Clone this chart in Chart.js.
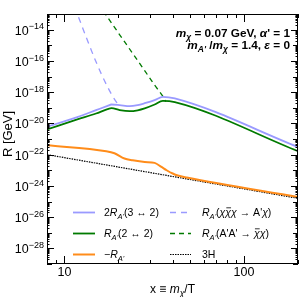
<!DOCTYPE html>
<html>
<head>
<meta charset="utf-8">
<script src="https://cdn.jsdelivr.net/npm/chart.js@4.4.1/dist/chart.umd.min.js"></script>
<style>
  html, body { margin: 0; padding: 0; background: #fff; }
  #wrap { width: 300px; height: 297px; }
</style>
</head>
<body>
<div id="wrap"><canvas id="rateChart" width="300" height="297"></canvas></div>
<script>
// ---- data (x = m_chi / T, R in GeV) ----
const xBlue  = [8, 11.8, 15.0, 17.4, 18.3, 20.3, 23.1, 25.6, 28.0, 31.8, 35.3, 41.2, 200];
const rBlue  = [6.0e-21, 2.51e-20, 7.0e-20, 1.32e-19, 1.62e-19, 1.48e-19, 1.26e-19, 1.48e-19, 1.95e-19, 3.09e-19, 5.01e-19, 3.98e-19, 3.09e-22];

const xGreen = [8, 11.8, 15.0, 17.4, 18.3, 20.3, 23.1, 25.6, 28.0, 31.8, 35.3, 41.2, 200];
const rGreen = [4.07e-21, 1.78e-20, 4.27e-20, 8.13e-20, 9.33e-20, 7.08e-20, 6.03e-20, 6.9e-20, 9.12e-20, 1.62e-19, 2.75e-19, 2.29e-19, 1.66e-22];

const xOrange = [8, 17.1, 19.0, 21.6, 24.0, 28.0, 31.8, 34.7, 37.1, 40.1, 42.8, 48.0, 200];
const rOrange = [3.98e-22, 1.66e-22, 1.23e-22, 5.6e-23, 4.37e-23, 3.39e-23, 2.95e-23, 1.62e-23, 1.0e-23, 6.17e-24, 4.57e-24, 3.39e-24, 1.95e-25];

const xBlueDash = [11.4, 11.8, 15.0, 17.2, 19.5, 20.3];
const rBlueDash = [2.8e-13, 1.0e-13, 8.7e-17, 2.8e-18, 2.3e-19, 1.5e-19];

const xGreenDash = [16.5, 16.9, 29.9, 31.8, 35.3, 36.7];
const rGreenDash = [1.5e-13, 1.0e-13, 7.9e-18, 2.8e-18, 5.5e-19, 2.45e-19];

const x3H = [8, 200];
const r3H = [1.0e-22, 1.6e-25];

// tick labels
const xTickVals = [10, 100];
const yTickExps = [-28, -26, -24, -22, -20, -18, -16, -14];

const FAM = "'Liberation Sans', Arial, sans-serif";

// ---- small rich text helper (italic / sub / sup / overline) ----
function segFont(s, size, bold) {
    const px = (s.s ? size * 0.72 : size);
    return (bold ? 'bold ' : '') + (s.i ? 'italic ' : '') + px.toFixed(1) + 'px ' + FAM;
}
function richWidth(ctx, segs, size, bold) {
    let w = 0;
    segs.forEach(s => { ctx.font = segFont(s, size, bold); w += ctx.measureText(s.t).width; });
    return w;
}
function drawRich(ctx, segs, x, y, size, align, bold) {
    const w = richWidth(ctx, segs, size, bold);
    let cx = align === 'right' ? x - w : align === 'center' ? x - w / 2 : x;
    ctx.textAlign = 'left';
    ctx.textBaseline = 'alphabetic';
    segs.forEach(s => {
        ctx.font = segFont(s, size, bold);
        let dy = 0;
        if (s.s === 'sub') dy = size * 0.28;
        if (s.s === 'sup') dy = -size * 0.42;
        ctx.fillText(s.t, cx, y + dy);
        const tw = ctx.measureText(s.t).width;
        if (s.bar) {
            ctx.save();
            ctx.lineWidth = 0.8;
            ctx.beginPath();
            ctx.moveTo(cx + 1, y - size * 0.78);
            ctx.lineTo(cx + tw, y - size * 0.78);
            ctx.stroke();
            ctx.restore();
        }
        cx += tw;
    });
}
const T = (t, o) => Object.assign({ t: t }, o || {});

// legend labels, same order as datasets
const legendText = [
    [T('2'), T('R', { i: 1 }), T("A'", { i: 1, s: 'sub' }), T('(3 ↔ 2)')],
    [T('R', { i: 1 }), T("A'", { i: 1, s: 'sub' }), T('(2 ↔ 2)')],
    [T('−'), T('R', { i: 1 }), T("A'", { i: 1, s: 'sub' })],
    [T('R', { i: 1 }), T("A'", { i: 1, s: 'sub' }), T('('), T('χ', { i: 1 }), T('χ', { i: 1, bar: 1 }), T('χ', { i: 1 }), T(" → A'"), T('χ', { i: 1 }), T(')')],
    [T('R', { i: 1 }), T("A'", { i: 1, s: 'sub' }), T("(A'A' → "), T('χ', { i: 1, bar: 1 }), T('χ', { i: 1 }), T(')')],
    [T('3H')]
];

const pairs = (xs, ys) => xs.map((v, i) => ({ x: v, y: ys[i] }));

// ---- axes frame, inward ticks, labels, legend, annotation ----
const decorPlugin = {
    id: 'decor',
    afterDraw(chart) {
        const ctx = chart.ctx;
        const a = chart.chartArea;
        const xs = chart.scales.x, ys = chart.scales.y;
        ctx.save();
        ctx.strokeStyle = '#000';
        ctx.fillStyle = '#000';
        ctx.lineWidth = 1;

        // frame
        ctx.strokeRect(a.left + 0.5, a.top + 0.5, a.right - a.left - 1, a.bottom - a.top - 1);

        // y ticks (both sides)
        ctx.beginPath();
        for (let e = -29; e <= -13; e++) {
            for (let m = 1; m <= 9; m++) {
                const v = m * Math.pow(10, e);
                if (v < ys.min || v > ys.max) continue;
                const py = Math.round(ys.getPixelForValue(v)) + 0.5;
                const len = m === 1 ? (e % 2 === 0 ? 7 : 5) : 2.5;
                ctx.moveTo(a.left, py); ctx.lineTo(a.left + len, py);
                ctx.moveTo(a.right, py); ctx.lineTo(a.right - len, py);
            }
        }
        // x ticks (top and bottom)
        for (let e = 0; e <= 2; e++) {
            for (let m = 1; m <= 9; m++) {
                const v = m * Math.pow(10, e);
                if (v < xs.min || v > xs.max) continue;
                const px = Math.round(xs.getPixelForValue(v)) + 0.5;
                const len = m === 1 ? 8 : 4;
                ctx.moveTo(px, a.bottom); ctx.lineTo(px, a.bottom - len);
                ctx.moveTo(px, a.top); ctx.lineTo(px, a.top + len);
            }
        }
        ctx.stroke();

        // y tick labels
        yTickExps.forEach(e => {
            const py = ys.getPixelForValue(Math.pow(10, e));
            drawRich(ctx, [T('10'), T('−' + Math.abs(e), { s: 'sup' })], a.left - 3, py + 5, 12.5, 'right', false);
        });
        // x tick labels
        xTickVals.forEach(v => {
            drawRich(ctx, [T(String(v))], xs.getPixelForValue(v), a.bottom + 12, 12.5, 'center', false);
        });

        // axis titles
        drawRich(ctx, [T('x ≡ '), T('m', { i: 1 }), T('χ', { i: 1, s: 'sub' }), T('/T')],
            (a.left + a.right) / 2, 293, 12, 'center', false);
        ctx.save();
        ctx.translate(12, 134);
        ctx.rotate(-Math.PI / 2);
        drawRich(ctx, [T('R [GeV]')], 0, 0, 13, 'center', false);
        ctx.restore();

        // annotation
        drawRich(ctx, [T('m', { i: 1 }), T('χ', { i: 1, s: 'sub' }), T(' = 0.07 GeV, '), T('α', { i: 1 }), T("' = 1")],
            290, 37, 11.8, 'right', true);
        drawRich(ctx, [T('m', { i: 1 }), T("A'", { i: 1, s: 'sub' }), T(' /'), T('m', { i: 1 }), T('χ', { i: 1, s: 'sub' }),
            T(' = 1.4, '), T('ε', { i: 1 }), T(' = 0')],
            290, 49, 11.8, 'right', true);

        // legend: two columns, three rows
        const colLine = [[73, 95], [170, 191]];
        const colText = [104, 202];
        const rowY = [212, 233, 254];
        chart.data.datasets.forEach((ds, i) => {
            const c = i < 3 ? 0 : 1, r = i % 3;
            ctx.save();
            ctx.strokeStyle = ds.borderColor;
            ctx.lineWidth = ds.borderWidth;
            ctx.setLineDash(ds.borderDash || []);
            ctx.beginPath();
            ctx.moveTo(colLine[c][0], rowY[r] + 0.5);
            ctx.lineTo(colLine[c][1], rowY[r] + 0.5);
            ctx.stroke();
            ctx.restore();
            drawRich(ctx, legendText[i], colText[c], rowY[r] + 4, 10.5, 'left', false);
        });
        ctx.restore();
    }
};

const commonLine = { fill: false, pointRadius: 0, cubicInterpolationMode: 'monotone' };

new Chart(document.getElementById('rateChart'), {
    type: 'line',
    data: {
        datasets: [
            Object.assign({ label: '2R(3<->2)', data: pairs(xBlue, rBlue), borderColor: '#9a9aff', borderWidth: 1.8 }, commonLine),
            Object.assign({ label: 'R(2<->2)', data: pairs(xGreen, rGreen), borderColor: '#007a00', borderWidth: 1.8 }, commonLine),
            Object.assign({ label: '-R', data: pairs(xOrange, rOrange), borderColor: '#ff8c1a', borderWidth: 2 }, commonLine),
            Object.assign({ label: 'R(xxx->A x)', data: pairs(xBlueDash, rBlueDash), borderColor: '#9a9aff', borderWidth: 1.3, borderDash: [6, 5] }, commonLine),
            Object.assign({ label: "R(A'A'->xx)", data: pairs(xGreenDash, rGreenDash), borderColor: '#007a00', borderWidth: 1.3, borderDash: [5, 4] }, commonLine),
            Object.assign({ label: '3H', data: pairs(x3H, r3H), borderColor: '#000000', borderWidth: 1.2, borderDash: [1.5, 1] }, commonLine)
        ]
    },
    options: {
        responsive: false,
        animation: false,
        layout: { padding: { top: 14, right: 2, left: 0, bottom: 0 } },
        plugins: { legend: { display: false }, tooltip: { enabled: false } },
        scales: {
            x: {
                type: 'logarithmic', min: 8, max: 200,
                grid: { display: false }, border: { display: false },
                ticks: { display: false },
                afterFit: s => { s.height = 33; }
            },
            y: {
                type: 'logarithmic', min: 1e-29, max: 1e-13,
                grid: { display: false }, border: { display: false },
                ticks: { display: false },
                afterFit: s => { s.width = 47; }
            }
        }
    },
    plugins: [decorPlugin]
});
</script>
</body>
</html>
